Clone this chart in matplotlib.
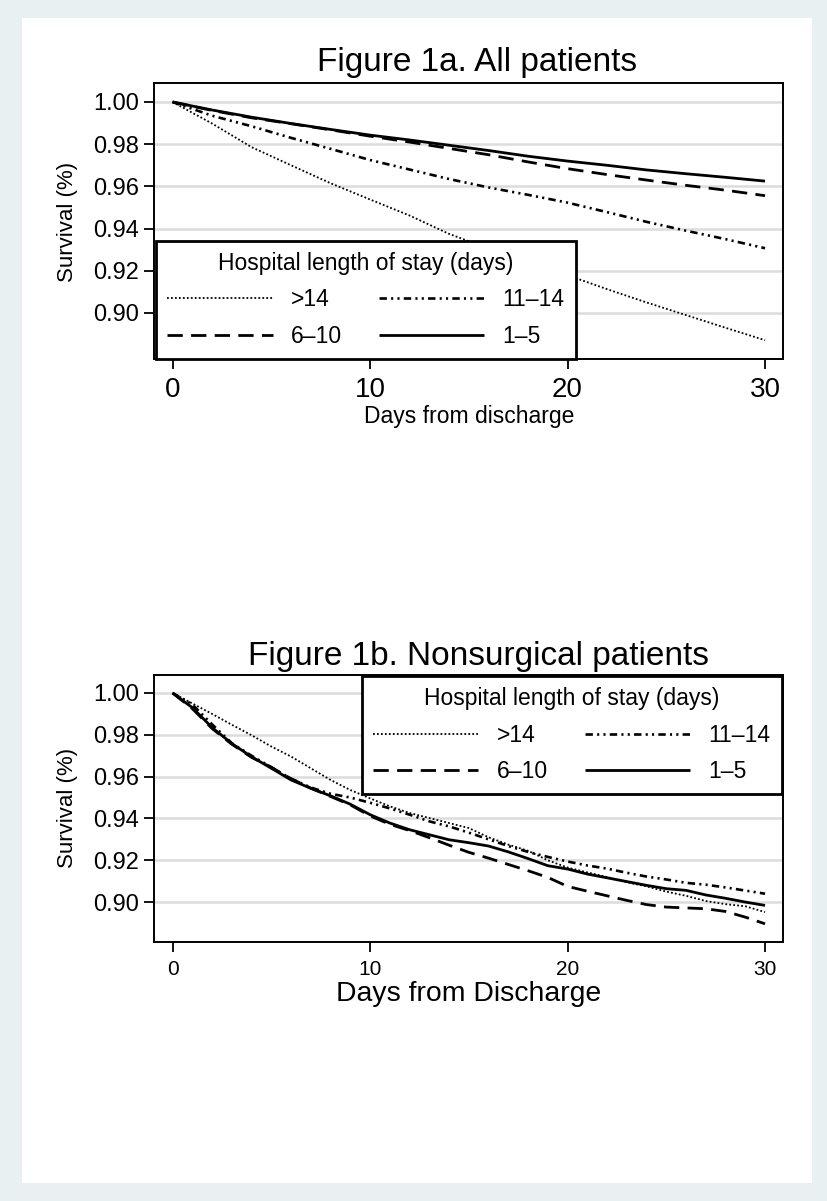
import matplotlib.pyplot as plt
from matplotlib.patches import Rectangle

plt.rcParams['font.family'] = ['Liberation Sans', 'DejaVu Sans']

# Figure 1a: all patients, survival read every 2 days
days_all = list(range(0, 31, 2))
all_gt14 = [1.000, 0.9898, 0.9786, 0.9700, 0.9615, 0.9538, 0.9462, 0.9375,
            0.9305, 0.9243, 0.9179, 0.9113, 0.9050, 0.8990, 0.8930, 0.8871]
all_11_14 = [1.000, 0.9935, 0.9885, 0.9830, 0.9778, 0.9725, 0.9680, 0.9635,
             0.9595, 0.9560, 0.9523, 0.9478, 0.9432, 0.9390, 0.9350, 0.9307]
all_6_10 = [1.000, 0.9960, 0.9925, 0.9897, 0.9868, 0.9838, 0.9810, 0.9780,
            0.9750, 0.9716, 0.9684, 0.9656, 0.9630, 0.9605, 0.9582, 0.9556]
all_1_5 = [1.000, 0.9962, 0.9928, 0.9898, 0.9870, 0.9843, 0.9820, 0.9795,
           0.9770, 0.9743, 0.9720, 0.9700, 0.9678, 0.9660, 0.9643, 0.9625]

# Figure 1b: nonsurgical patients, survival read daily
days_nonsurg = list(range(0, 31))
ns_gt14 = [1.000, 0.9950, 0.9900, 0.9848, 0.9798, 0.9744, 0.9696, 0.9640,
           0.9584, 0.9536, 0.9496, 0.9458, 0.9426, 0.9402, 0.9378, 0.9354,
           0.9310, 0.9275, 0.9245, 0.9200, 0.9165, 0.9142, 0.9120, 0.9095,
           0.9075, 0.9050, 0.9030, 0.9005, 0.8990, 0.8980, 0.8952]
ns_11_14 = [1.000, 0.9945, 0.9850, 0.9760, 0.9700, 0.9645, 0.9590, 0.9548,
            0.9518, 0.9500, 0.9475, 0.9448, 0.9418, 0.9386, 0.9362, 0.9332,
            0.9300, 0.9268, 0.9240, 0.9216, 0.9194, 0.9175, 0.9160, 0.9140,
            0.9122, 0.9108, 0.9092, 0.9083, 0.9070, 0.9055, 0.9040]
ns_6_10 = [1.000, 0.9925, 0.9830, 0.9755, 0.9692, 0.9645, 0.9590, 0.9545,
           0.9505, 0.9465, 0.9412, 0.9372, 0.9342, 0.9308, 0.9272, 0.9238,
           0.9210, 0.9180, 0.9150, 0.9118, 0.9075, 0.9052, 0.9030, 0.9008,
           0.8988, 0.8976, 0.8972, 0.8968, 0.8955, 0.8928, 0.8896]
ns_1_5 = [1.000, 0.9930, 0.9835, 0.9758, 0.9695, 0.9640, 0.9584, 0.9544,
          0.9508, 0.9468, 0.9418, 0.9378, 0.9346, 0.9322, 0.9298, 0.9284,
          0.9268, 0.9240, 0.9208, 0.9174, 0.9158, 0.9134, 0.9116, 0.9098,
          0.9080, 0.9064, 0.9056, 0.9034, 0.9018, 0.9000, 0.8984]

los_labels = [">14", "11–14", "6–10", "1–5"]
y_ticks = [0.90, 0.92, 0.94, 0.96, 0.98, 1.00]
x_ticks = [0, 10, 20, 30]

# line styles per length-of-stay group
styles = {
    ">14": dict(lw=1.3, dashes=(1, 1.2)),
    "11–14": dict(lw=1.9, dashes=(2.8, 1.6, 0.8, 1.6, 0.8, 1.6)),
    "6–10": dict(lw=2.0, dashes=(5.5, 3)),
    "1–5": dict(lw=2.0),
}

W, H = 827, 1201
fig = plt.figure(figsize=(W / 100, H / 100), dpi=100, facecolor='#e9f0f2')
fig.add_artist(Rectangle((22 / W, 18 / H), 790 / W, 1165 / H,
                         transform=fig.transFigure, facecolor='white',
                         edgecolor='none', zorder=-1))


def draw_panel(ax, days, curves, ylim, xsize, legend_kw):
    lines = {}
    for lab, vals in zip(los_labels, curves):
        ln, = ax.plot(days, vals, color='black', solid_capstyle='butt',
                      dash_capstyle='butt', **styles[lab])
        lines[lab] = ln
    ax.set_xlim(-0.94, 30.91)
    ax.set_ylim(*ylim)
    ax.set_xticks(x_ticks)
    ax.set_yticks(y_ticks)
    ax.set_yticklabels([f"{v:.2f}" for v in y_ticks])
    ax.tick_params(axis='y', length=7, width=1.3, pad=4, labelsize=17)
    ax.tick_params(axis='x', length=7, width=1.3, pad=6, labelsize=xsize)
    ax.grid(axis='y', color='#dcdcdc', lw=1.8)
    ax.set_axisbelow(True)
    for sp in ax.spines.values():
        sp.set_linewidth(1.4)
    order = [">14", "6–10", "11–14", "1–5"]
    leg = ax.legend([lines[k] for k in order], order,
                    title="Hospital length of stay (days)", ncol=2,
                    fontsize=16.5, title_fontsize=16.5, handlelength=4.6,
                    handletextpad=0.8, columnspacing=1.6, labelspacing=0.58,
                    borderpad=0.5, borderaxespad=0, fancybox=False,
                    framealpha=1, edgecolor='black', **legend_kw)
    leg.get_frame().set_linewidth(2.0)


ax_a = fig.add_axes([154 / W, 1 - 359 / H, 629 / W, 276 / H])
draw_panel(ax_a, days_all, [all_gt14, all_11_14, all_6_10, all_1_5],
           (0.8782, 1.009), 20,
           dict(loc='lower left', bbox_to_anchor=(0.003, 0.0)))

ax_b = fig.add_axes([154 / W, 1 - 942 / H, 629 / W, 267 / H])
draw_panel(ax_b, days_nonsurg, [ns_gt14, ns_11_14, ns_6_10, ns_1_5],
           (0.8809, 1.0086), 15,
           dict(loc='upper right', bbox_to_anchor=(0.998, 0.997)))

# titles and axis labels
fig.text(477 / W, 1 - 62 / H, "Figure 1a. All patients", fontsize=24,
         ha='center', va='center')
fig.text(469 / W, 1 - 416 / H, "Days from discharge", fontsize=16.5,
         ha='center', va='center')
fig.text(68 / W, 1 - 222 / H, "Survival (%)", fontsize=16, rotation=90,
         ha='center', va='center')

fig.text(479 / W, 1 - 656 / H, "Figure 1b. Nonsurgical patients",
         fontsize=24, ha='center', va='center')
fig.text(469 / W, 1 - 994 / H, "Days from Discharge", fontsize=20.4,
         ha='center', va='center')
fig.text(68 / W, 1 - 808 / H, "Survival (%)", fontsize=16, rotation=90,
         ha='center', va='center')

fig.savefig("out.png", dpi=100, facecolor=fig.get_facecolor())
